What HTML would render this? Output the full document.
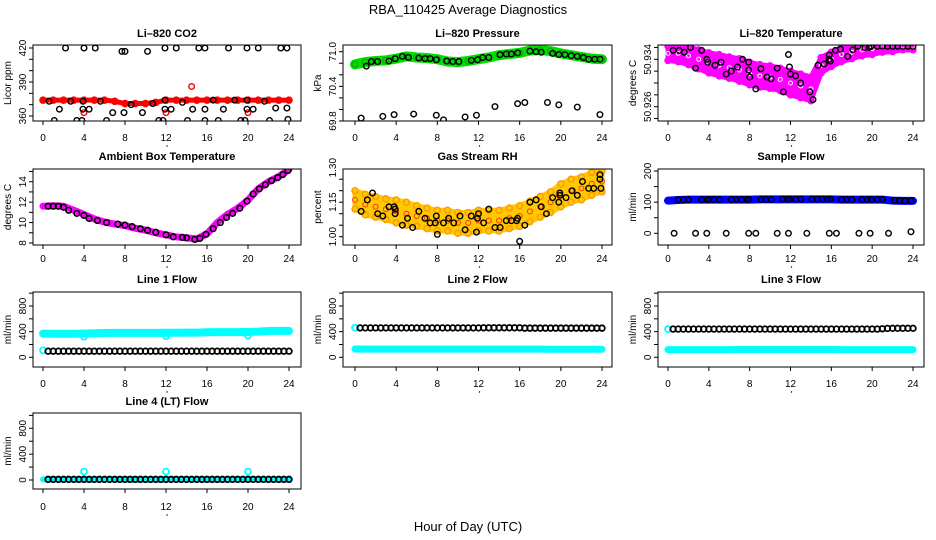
<!DOCTYPE html>
<html><head><meta charset="utf-8"><style>
html,body{margin:0;padding:0;background:#fff;}
svg{display:block;font-family:"Liberation Sans",sans-serif;}
</style></head><body>
<svg id="chart" width="936" height="540" viewBox="0 0 936 540" xmlns="http://www.w3.org/2000/svg">
<rect width="936" height="540" fill="#fff"/>
<text x="468" y="14" text-anchor="middle" font-size="13">RBA_110425  Average Diagnostics</text>
<text x="468" y="531" text-anchor="middle" font-size="13">Hour of Day (UTC)</text>
</svg>
<script>
// ---- data ----
const hours = [0,1,2,3,4,5,6,7,8,9,10,11,12,13,14,15,16,17,18,19,20,21,22,23,24];
const xTicks = [0,4,8,12,16,20,24];
const halfHours = [0.5,1,1.5,2,2.5,3,3.5,4,4.5,5,5.5,6,6.5,7,7.5,8,8.5,9,9.5,10,10.5,11,11.5,12,12.5,13,13.5,14,14.5,15,15.5,16,16.5,17,17.5,18,18.5,19,19.5,20,20.5,21,21.5,22,22.5,23,23.5,24];

const co2Red = [374,374,374,374,374,374,374,373,371,371,371,372,374,374,374,374,374,374,374,374,374,374,374,374,374];
const co2RedOutT = [4,12,14.5,20];
const co2RedOutV = [363,363,386,363];
const co2BlkT = [2.2,4,5.1,7.7,8,10.2,11.9,13,15.2,15.8,18.1,19.9,21,23.2,23.8,0.6,1.1,1.6,2.7,3.3,3.8,3.9,3.9,4.5,5.6,6.2,6.8,7.9,8,8.6,9.1,9.7,10.7,11.3,11.7,11.9,11.9,12.5,13.6,14.1,14.6,15.8,15.8,16.6,17.1,17.6,18.7,19.3,19.7,19.9,19.9,20.5,21.6,22.1,22.7,23.8,23.9];
const co2BlkV = [420,420,420,417,417,417,420,420,420,420,420,420,420,420,420,373,356,366,373,356,356,366,373,366,373,356,363,363,353,370,353,363,371,356,356,366,374,366,372,356,366,356,366,374,356,366,374,356,356,366,374,366,373,356,367,367,357];

const presGreen = [70.78,70.82,70.84,70.85,70.88,70.92,70.90,70.89,70.87,70.83,70.82,70.84,70.87,70.90,70.94,70.96,70.98,71.02,71.03,71.01,70.97,70.94,70.91,70.88,70.87];
const presBlkT = [0.6,2.7,3.8,5.7,7.9,8.6,10.7,11.8,13.6,15.8,16.5,18.7,19.8,21.6,23.8,1.1,1.6,2.2,3.3,3.9,4.6,5.2,6.2,6.8,7.3,7.9,8.9,9.5,10.1,11.3,11.9,12.4,13.0,14.1,14.7,15.2,15.8,17.0,17.6,18.1,19.2,19.8,20.4,21.0,21.6,22.2,22.7,23.3,23.8];
const presBlkV = [69.85,69.88,69.91,69.92,69.9,69.82,69.87,69.9,70.05,70.1,70.12,70.12,70.08,70.04,69.91,70.75,70.83,70.83,70.84,70.88,70.92,70.9,70.89,70.88,70.88,70.86,70.84,70.83,70.83,70.85,70.86,70.9,70.9,70.95,70.96,70.96,70.98,71.01,71.0,70.99,70.97,70.95,70.95,70.93,70.92,70.9,70.87,70.87,70.87];

const tempMid = [50.9350,50.9350,50.9346,50.9340,50.9334,50.9330,50.9326,50.9322,50.9316,50.9312,50.9310,50.9306,50.9300,50.9295,50.9290,50.9330,50.9340,50.9348,50.9352,50.9356,50.9358,50.9360,50.9361,50.9362,50.9362];
const tempSpread = [0.0012,0.0014,0.0015,0.0016,0.0017,0.0018,0.0018,0.0019,0.0019,0.0019,0.0019,0.0019,0.0020,0.0020,0.0020,0.0013,0.0012,0.0012,0.0011,0.0010,0.0010,0.0008,0.0008,0.0006,0.0006];
const tempBlkT = [0.5,1.1,1.6,2.2,2.7,3.3,3.8,3.9,4.6,5.2,5.7,6.2,6.8,7.3,7.9,7.9,8,8.6,9.1,9.7,10.1,10.7,11.3,11.8,11.9,12,12.5,13.0,13.9,14.2,14.7,15.3,15.8,15.8,15.9,16.4,16.9,17.6,18.1,18.6,19.3,19.7,19.9,20.5,21,21.5,22,22.5,23,23.5,24];
const tempBlkV = [50.9355,50.9355,50.9352,50.9360,50.9325,50.9355,50.9340,50.9335,50.9330,50.9335,50.9315,50.9320,50.9327,50.9340,50.9335,50.9322,50.9310,50.9290,50.9324,50.9310,50.9307,50.9325,50.9285,50.9348,50.9327,50.9315,50.9312,50.9300,50.9285,50.9272,50.9330,50.9332,50.9340,50.9347,50.9337,50.9355,50.9357,50.9345,50.9356,50.9362,50.9360,50.9360,50.9362,50.9362,50.9362,50.9362,50.9362,50.9362,50.9362,50.9362,50.9362];

const ambMag = [11.6,11.65,11.6,11.2,10.8,10.35,10.05,9.85,9.7,9.45,9.25,9.0,8.8,8.6,8.5,8.4,8.9,10.0,10.8,11.4,12.2,13.3,14.0,14.5,15.2];
const ambBlkT = [0.5,1,1.5,2,2.5,3.3,4,4.5,5.3,6.2,7.3,8,8.7,9.5,10.2,11,12,12.7,13.6,14,14.8,15.3,15.9,16.6,17.3,17.9,18.5,19.2,19.9,20.5,21.1,21.7,22.3,22.9,23.4,23.9];
const ambBlkV = [11.6,11.6,11.6,11.5,11.2,10.9,10.7,10.4,10.2,10.0,9.85,9.75,9.6,9.4,9.25,9.05,8.8,8.6,8.55,8.5,8.35,8.45,8.85,9.4,10.0,10.5,10.9,11.4,12.1,12.8,13.3,13.7,14.1,14.4,14.7,15.1];

const rhMid = [1.16,1.14,1.13,1.12,1.11,1.10,1.09,1.08,1.07,1.07,1.06,1.06,1.07,1.07,1.07,1.08,1.09,1.11,1.13,1.15,1.18,1.20,1.21,1.23,1.24];
const rhSpread = [0.04,0.045,0.045,0.045,0.05,0.05,0.045,0.045,0.045,0.045,0.045,0.045,0.045,0.045,0.045,0.045,0.045,0.045,0.045,0.045,0.05,0.05,0.05,0.05,0.045];
const rhBlkT = [0.6,1.2,1.7,2.2,2.7,3.3,3.8,3.9,3.9,4.6,5.1,5.6,6.2,6.8,7.3,7.8,7.9,8,8.6,9.1,9.6,10.2,10.7,11.3,11.8,11.9,12,12.5,13,13.6,14.1,14.7,15.2,15.7,15.8,16,16.5,17,17.6,18.1,18.6,19.2,19.8,19.9,19.9,20.5,21.1,21.6,22.1,22.7,23.2,23.8,23.8,23.9];
const rhBlkV = [1.11,1.16,1.19,1.10,1.09,1.13,1.13,1.10,1.12,1.05,1.08,1.04,1.11,1.08,1.06,1.06,1.09,1.01,1.06,1.08,1.06,1.09,1.03,1.09,1.02,1.08,1.10,1.06,1.12,1.04,1.04,1.07,1.07,1.07,1.08,0.98,1.05,1.15,1.16,1.13,1.10,1.17,1.15,1.18,1.19,1.17,1.20,1.18,1.24,1.21,1.21,1.27,1.25,1.21];

const sampBlue = [105,107,108,108,108,108,108,108,108,109,109,109,109,109,109,109,109,108,108,108,108,108,105,104,104];
const sampBlkT = [1,1.5,2,3.3,3.8,4,4.5,5,6.2,6.7,7.2,7.7,7.9,9.1,9.6,10.1,11.2,11.7,11.9,12.5,13,14.1,14.6,15.1,15.6,15.9,17,17.5,18,19,19.5,19.9,20.5,21,22.2,22.7,23.2,23.8,0.6,2.7,3.8,5.7,7.9,8.6,10.7,11.8,13.6,15.8,16.5,18.7,19.8,21.6,23.8];
const sampBlkV = [108,108,108,108,108,109,109,109,109,109,109,109,109,109,109,109,110,110,110,110,110,110,110,110,110,110,109,109,109,109,109,109,109,109,106,105,105,105,0,0,0,0,0,0,0,0,0,0,0,0,0,0,5];

const l1Cyan = [370,368,365,368,372,376,378,380,380,380,380,380,382,383,385,385,390,392,392,393,395,400,410,412,412];
const l1CyanOutT = [0,4,12,20];
const l1CyanOutV = [110,320,330,340];
const l1Black = [95,95,95,95,95,95,95,95,95,95,95,95,95,95,95,95,95,95,95,95,95,95,95,95,95,95,95,95,95,95,95,95,95,95,95,95,95,95,95,95,95,95,95,95,95,95,95,95];

const l2Cyan = [130,128,128,127,127,127,128,128,127,127,127,128,128,128,127,127,127,127,127,126,126,126,125,125,125];
const l2Black = [458,458,458,458,458,458,458,458,458,458,458,458,458,458,458,458,458,458,458,458,458,458,458,458,460,460,460,460,460,460,460,460,455,455,455,455,455,455,455,455,455,455,455,455,455,455,455,455];

const l3Cyan = [120,120,120,120,120,120,120,122,122,122,122,122,122,122,122,122,122,120,120,120,120,120,120,120,120];
const l3Black = [440,440,440,440,440,440,440,440,440,440,440,440,440,440,440,440,440,440,440,440,440,440,440,440,440,440,440,440,440,440,440,440,440,440,440,440,440,440,440,440,440,445,450,452,452,452,452,452];

const l4Cyan = [10,10,10,10,10,10,10,10,10,10,10,10,10,10,10,10,10,10,10,10,10,10,10,10,10];
const l4CyanOutT = [4,12,20];
const l4CyanOutV = [130,130,130];
const l4Black = [10,10,10,10,10,10,10,10,10,10,10,10,10,10,10,10,10,10,10,10,10,10,10,10,10,10,10,10,10,10,10,10,10,10,10,10,10,10,10,10,10,10,10,10,10,10,10,10];

// ---- layout ----
const NS = "http://www.w3.org/2000/svg";
const svg = document.getElementById('chart');
const COLS = [{x0:33,x1:301,t0:43,t1:289},{x0:343,x1:612,t0:355,t1:602},{x0:658,x1:924,t0:668,t1:913}];
const ROWS = [{y0:45,y1:121,lb:141,tb:37},{y0:169,y1:245,lb:262,tb:160},{y0:292,y1:367,lb:387,tb:283},{y0:413,y1:489,lb:510,tb:405}];
let clipId = 0;
function el(tag, attrs, parent){
  const e = document.createElementNS(NS, tag);
  for (const k in attrs) e.setAttribute(k, attrs[k]);
  (parent||svg).appendChild(e);
  return e;
}
function panel(name, title, ci, ri, cal, ticks, labels, fmt, ytitle){
  const C = COLS[ci], R = ROWS[ri];
  const g = el('g', {});
  
  
  const xs = h => C.t0 + (C.t1 - C.t0) * h / 24;
  const ys = v => cal[1] + (v - cal[0]) * (cal[3] - cal[1]) / (cal[2] - cal[0]);
  const t = el('text', {x:(C.x0+C.x1)/2, y:R.tb, 'text-anchor':'middle', 'font-size':11, 'font-weight':'bold'}, g);
  t.textContent = title;
  
  
  const cid = 'clip' + (clipId++);
  const cp = el('clipPath', {id:cid}, g);
  el('rect', {x:C.x0, y:R.y0, width:C.x1-C.x0, height:R.y1-R.y0}, cp);
  const plot = el('g', {'clip-path':'url(#'+cid+')'}, g);
  
  
  const box = el('rect', {x:C.x0, y:R.y0, width:C.x1-C.x0, height:R.y1-R.y0, fill:'none', stroke:'#000', 'stroke-width':1}, g);
  
  
  const xa = el('g', {}, g);
  
  
  xTicks.forEach(h => {
    el('line', {x1:xs(h), x2:xs(h), y1:R.y1, y2:R.y1+4, stroke:'#000'}, xa);
    const lt = el('text', {x:xs(h), y:R.lb, 'text-anchor':'middle', 'font-size':10}, xa);
    lt.textContent = h;
  });
  el('circle', {cx:(C.t0+C.t1)/2 + 1, cy:R.lb+5, r:0.7, fill:'#000'}, xa);
  const ya = el('g', {}, g);
  
  
  ticks.forEach(v => {
    const y = ys(v);
    if (y < R.y0 - 0.5 || y > R.y1 + 0.5) return;
    el('line', {x1:C.x0-4, x2:C.x0, y1:y, y2:y, stroke:'#000'}, ya);
  });
  labels.forEach(v => {
    const y = ys(v);
    const lt = el('text', {x:C.x0-7, y:y, 'text-anchor':'middle', 'font-size':10, transform:'rotate(-90 '+(C.x0-7)+' '+y+')'}, ya);
    lt.textContent = fmt(v);
  });
  const yt = el('text', {x:C.x0-22, y:(R.y0+R.y1)/2, 'text-anchor':'middle', 'font-size':10, transform:'rotate(-90 '+(C.x0-22)+' '+((R.y0+R.y1)/2)+')'}, ya);
  yt.textContent = ytitle;
  
  return {xs, ys, plot};
}
function band(p, name, tArr, vArr, color, w){
  const pl = el('polyline', {points: tArr.map((t,i)=>p.xs(t)+','+p.ys(vArr[i])).join(' '), fill:'none', stroke:color, 'stroke-width':w, 'stroke-linejoin':'round', 'stroke-linecap':'round'}, p.plot);
  
  
}
function pts(p, name, tArr, vArr, color, r, sw, fill){
  const g = el('g', {}, p.plot);
  
  
  tArr.forEach((t,i) => {
    const c = el('circle', {cx:p.xs(t), cy:p.ys(vArr[i]), r:r||2.8, fill:fill||'none', stroke:color, 'stroke-width':sw||1.4}, g);
    
    
  });
}
function cloud(p, name, mid, spread, fillC, ptC){
  const up = hours.map((t,i)=>p.xs(t)+','+p.ys(mid[i]+spread[i]));
  const dn = hours.map((t,i)=>p.xs(t)+','+p.ys(mid[i]-spread[i])).reverse();
  const pg = el('polygon', {points: up.concat(dn).join(' '), fill:fillC, stroke:fillC, 'stroke-width':5, 'stroke-linejoin':'round'}, p.plot);
  
  
  pts(p, name+'-upper', hours, mid.map((m,i)=>m+spread[i]), ptC, 3, 1.4);
  pts(p, name+'-lower', hours, mid.map((m,i)=>m-spread[i]), ptC, 3, 1.4);
}
const rng = (a,b,s) => { const r=[]; for(let v=a; v<=b+1e-9; v+=s) r.push(+v.toFixed(4)); return r; };

// CO2
let p = panel('co2', 'Li\u2013820 CO2', 0, 0, [420,48,360,116], rng(350,420,10), [360,390,420], v=>v, 'Licor ppm');
band(p, 'co2-red-series', hours, co2Red, '#ff0000', 5);
pts(p, 'co2-red-series-markers', hours, co2Red, '#ff0000', 3, 1.6);
pts(p, 'co2-red-outliers', co2RedOutT, co2RedOutV, '#ff0000');
pts(p, 'co2-black-series', co2BlkT, co2BlkV, '#000');

// Pressure
p = panel('pressure', 'Li\u2013820 Pressure', 1, 0, [71.0,51.7,69.8,121], rng(69.6,71.2,0.2), [69.8,70.4,71.0], v=>v.toFixed(1), 'kPa');
band(p, 'pressure-green-series', hours, presGreen, '#00dd00', 10);
pts(p, 'pressure-green-markers', hours, presGreen, '#119911', 3, 1);
pts(p, 'pressure-black-series', presBlkT, presBlkV, '#000');

// Li-820 Temperature
p = panel('li820-temp', 'Li\u2013820 Temperature', 2, 0, [50.934,59.3,50.926,106.7], rng(50.920,50.938,0.002), [50.926,50.934], v=>v.toFixed(3), 'degrees C');
cloud(p, 'li820-temp-magenta-series', tempMid, tempSpread, '#ff00ff', '#ff00ff');
pts(p, 'li820-temp-magenta-markers', hours, tempMid, '#ffffff', 2, 1);
pts(p, 'li820-temp-black-series', tempBlkT, tempBlkV, '#000');

// Ambient box temp
p = panel('ambient-temp', 'Ambient Box Temperature', 0, 1, [14,181.7,8,243], rng(7,16,1), [8,10,12,14], v=>v, 'degrees C');
band(p, 'ambient-magenta-series', hours, ambMag, '#ff00ff', 7);
pts(p, 'ambient-black-series', ambBlkT, ambBlkV, '#000', 2.8, 1.6);

// Gas stream RH
p = panel('gas-rh', 'Gas Stream RH', 1, 1, [1.30,167.7,1.00,236.7], rng(0.95,1.35,0.05), [1.00,1.15,1.30], v=>v.toFixed(2), 'percent');
cloud(p, 'gas-rh-orange-series', rhMid, rhSpread, '#ffc800', '#ff9900');
pts(p, 'gas-rh-red-markers', hours, rhMid, '#ff3300', 2.5, 1);
pts(p, 'gas-rh-black-series', rhBlkT, rhBlkV, '#000');

// Sample flow
p = panel('sample-flow', 'Sample Flow', 2, 1, [200,171,0,233.3], rng(-50,250,50), [0,100,200], v=>v, 'ml/min');
band(p, 'sample-flow-blue-series', hours, sampBlue, '#0000ff', 8);
pts(p, 'sample-flow-black-series', sampBlkT, sampBlkV, '#000');

// Line flows
const flowTicks = rng(-200,1000,200);
p = panel('line1-flow', 'Line 1 Flow', 0, 2, [800,306,0,357.3], flowTicks, [0,400,800], v=>v, 'ml/min');
band(p, 'line1-cyan-series', hours, l1Cyan, '#00ffff', 8);
pts(p, 'line1-cyan-outliers', l1CyanOutT, l1CyanOutV, '#00ffff', 3, 1.8);
pts(p, 'line1-black-series', halfHours, l1Black, '#000', 2.8, 1.8);

p = panel('line2-flow', 'Line 2 Flow', 1, 2, [800,306,0,357.3], flowTicks, [0,400,800], v=>v, 'ml/min');
band(p, 'line2-cyan-series', hours, l2Cyan, '#00ffff', 7);
pts(p, 'line2-cyan-start', [0], [460], '#00ffff', 3, 1.8);
pts(p, 'line2-black-series', halfHours, l2Black, '#000', 2.8, 1.8);

p = panel('line3-flow', 'Line 3 Flow', 2, 2, [800,306,0,357.3], flowTicks, [0,400,800], v=>v, 'ml/min');
band(p, 'line3-cyan-series', hours, l3Cyan, '#00ffff', 7);
pts(p, 'line3-cyan-start', [0], [440], '#00ffff', 3, 1.8);
pts(p, 'line3-black-series', halfHours, l3Black, '#000', 2.8, 1.8);

p = panel('line4-flow', 'Line 4 (LT) Flow', 0, 3, [800,428.3,0,480], flowTicks, [0,400,800], v=>v, 'ml/min');
band(p, 'line4-cyan-series', hours, l4Cyan, '#00ffff', 6);
pts(p, 'line4-cyan-outliers', l4CyanOutT, l4CyanOutV, '#00ffff', 3, 1.8);
pts(p, 'line4-black-series', halfHours, l4Black, '#000', 2.8, 1.8);
</script>
</body></html>
